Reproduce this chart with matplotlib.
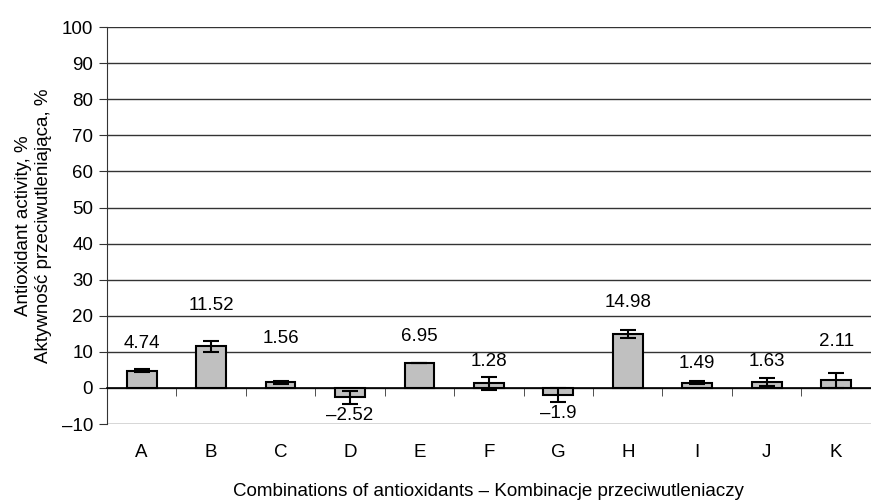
import matplotlib
matplotlib.use("Agg")
import matplotlib.pyplot as plt
import numpy as np

plt.rcParams['font.family'] = ['Liberation Sans', 'DejaVu Sans']

categories = ['A', 'B', 'C', 'D', 'E', 'F', 'G', 'H', 'I', 'J', 'K']
activity = [4.74, 11.52, 1.56, -2.52, 6.95, 1.28, -1.9, 14.98, 1.49, 1.63, 2.11]
errors = [0.4, 1.5, 0.4, 1.8, 0.1, 1.8, 1.9, 1.0, 0.3, 1.2, 2.1]
yticks = list(range(-10, 101, 10))

# where each value label sits (data units)
label_y = [12.2, 22.9, 13.6, -7.5, 14.3, 7.3, -7.0, 23.7, 6.9, 7.3, 12.9]

fs = 13.5

fig = plt.figure(figsize=(8.71, 5.03), dpi=100)
ax = fig.add_axes([0.1228, 0.157, 0.877, 0.789])

x = np.arange(len(categories))
ax.bar(x, activity, width=0.43, color='#c0c0c0', edgecolor='black', linewidth=1.5, zorder=3)
ax.errorbar(x, activity, yerr=errors, fmt='none', ecolor='black', elinewidth=1.5,
            capsize=6, capthick=1.5, zorder=4)

for xi, v, ly in zip(x, activity, label_y):
    txt = f'{v}'.replace('-', '\u2013')
    ax.text(xi, ly, txt, ha='center', va='center', fontsize=fs)

ax.set_xlim(-0.5, len(categories) - 0.5)
ax.set_ylim(-10, 100)
ax.set_yticks(yticks)
ax.set_yticklabels([str(t).replace('-', '\u2013') for t in yticks], fontsize=fs)
ax.yaxis.grid(True, color='#333333', linewidth=1.0, zorder=0)
ax.set_axisbelow(True)

ax.spines['top'].set_visible(False)
ax.spines['right'].set_visible(False)
ax.spines['left'].set_color('#333333')
ax.spines['bottom'].set_position(('data', 0))
ax.spines['bottom'].set_color('black')
ax.spines['bottom'].set_linewidth(1.2)

ax.set_xticks(x)
ax.set_xticklabels(categories, fontsize=fs)
ax.set_xticks(np.arange(len(categories) + 1) - 0.5, minor=True)
ax.tick_params(axis='x', which='major', length=0, pad=40)
ax.tick_params(axis='x', which='minor', length=6, direction='out', color='#333333')
ax.tick_params(axis='y', length=6, direction='out', color='#333333', pad=4)

ax.set_xlabel('Combinations of antioxidants \u2013 Kombinacje przeciwutleniaczy',
              fontsize=fs, labelpad=16)
ax.set_ylabel('Antioxidant activity, %\nAktywność przeciwutleniająca, %',
              fontsize=fs, labelpad=7)

fig.savefig('out.png', dpi=100)
